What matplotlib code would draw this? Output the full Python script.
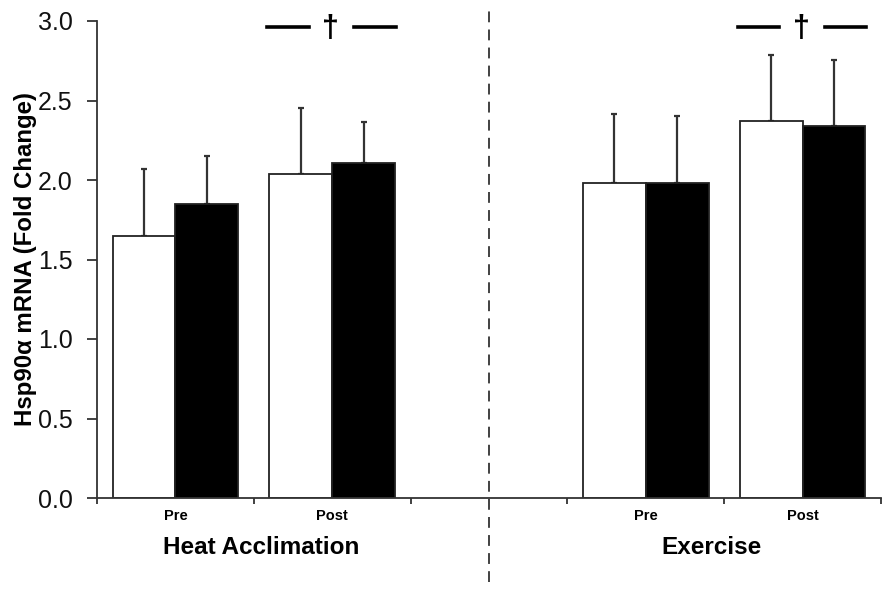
import matplotlib
matplotlib.use("Agg")
import matplotlib.pyplot as plt
import numpy as np

plt.rcParams['font.family'] = ['Liberation Sans', 'DejaVu Sans']

# ---- data ----
categories = ["Pre", "Post", "", "Pre", "Post"]
white_vals = [1.65, 2.04, np.nan, 1.98, 2.37]
white_err = [0.42, 0.415, np.nan, 0.435, 0.415]
black_vals = [1.85, 2.105, np.nan, 1.98, 2.34]
black_err = [0.30, 0.26, np.nan, 0.425, 0.415]
yticks = [0.0, 0.5, 1.0, 1.5, 2.0, 2.5, 3.0]
group_labels = ["Heat Acclimation", "Exercise"]
sig_marks = {1: "\u2020", 4: "\u2020"}

fig = plt.figure(figsize=(8.93, 5.89), dpi=100)
ax = fig.add_axes([97/893, 1-498/589, (881-97)/893, (498-21)/589])

x = np.arange(len(categories))
w = 0.4
edge = "#222222"
ax.bar(x - w/2, white_vals, w, color="white", edgecolor=edge, linewidth=1.3, zorder=2)
ax.bar(x + w/2, black_vals, w, color="black", edgecolor=edge, linewidth=1.3, zorder=2)

wv = np.array(white_vals); we = np.array(white_err)
bv = np.array(black_vals); be = np.array(black_err)
ax.errorbar(x - w/2, wv, yerr=[np.zeros_like(we), we], fmt="none",
            ecolor="#333333", elinewidth=1.6, capsize=2.2, capthick=1.6, zorder=1)
ax.errorbar(x + w/2, bv, yerr=[np.zeros_like(be), be], fmt="none",
            ecolor="#333333", elinewidth=1.6, capsize=2.2, capthick=1.6, zorder=1)

ax.set_xlim(-0.5, len(categories) - 0.5)
ax.set_ylim(0, 3.0)
ax.set_yticks(yticks)
ax.set_yticklabels([f"{t:.1f}" for t in yticks], fontsize=18, color="#111111")
ax.set_xticks(np.arange(-0.5, len(categories), 1.0))
ax.set_xticklabels([])
ax.set_xticks(x, minor=True)
ax.set_xticklabels(categories, minor=True, fontsize=10.5, fontweight="bold")
ax.tick_params(axis="x", which="minor", length=0, pad=8)
ax.tick_params(axis="x", which="major", length=4, width=1.3, color="#333333")
ax.tick_params(axis="y", length=7, width=1.3, color="#333333", pad=10.5)

for s in ["top", "right"]:
    ax.spines[s].set_visible(False)
for s in ["left", "bottom"]:
    ax.spines[s].set_linewidth(1.3)
    ax.spines[s].set_color("#333333")

ax.set_ylabel("Hsp90\u03b1 mRNA (Fold Change)", fontsize=17.3, fontweight="bold")
ax.yaxis.set_label_coords(-0.077, 0.5)

# group labels
ax.text(0.55, -0.31, group_labels[0], ha="center", va="center", fontsize=17.5,
        fontweight="bold", transform=ax.transData, clip_on=False)
ax.text(3.42, -0.31, group_labels[1], ha="center", va="center", fontsize=17.5,
        fontweight="bold", transform=ax.transData, clip_on=False)

# dashed divider
ax.plot([2.0, 2.0], [-0.53, 3.1], color="#333333", linestyle=(0, (6, 4)),
        linewidth=1.3, clip_on=False, zorder=0)

# significance marks
for idx, mark in sig_marks.items():
    y = 2.96
    ax.plot([idx - 0.415, idx - 0.15], [y, y], color="black", linewidth=2.6, clip_on=False)
    ax.plot([idx + 0.14, idx + 0.405], [y, y], color="black", linewidth=2.6, clip_on=False)
    ax.text(idx - 0.01, y - 0.01, mark, ha="center", va="center", fontsize=22,
            fontweight="bold", clip_on=False)

fig.savefig("out.png", dpi=100)
